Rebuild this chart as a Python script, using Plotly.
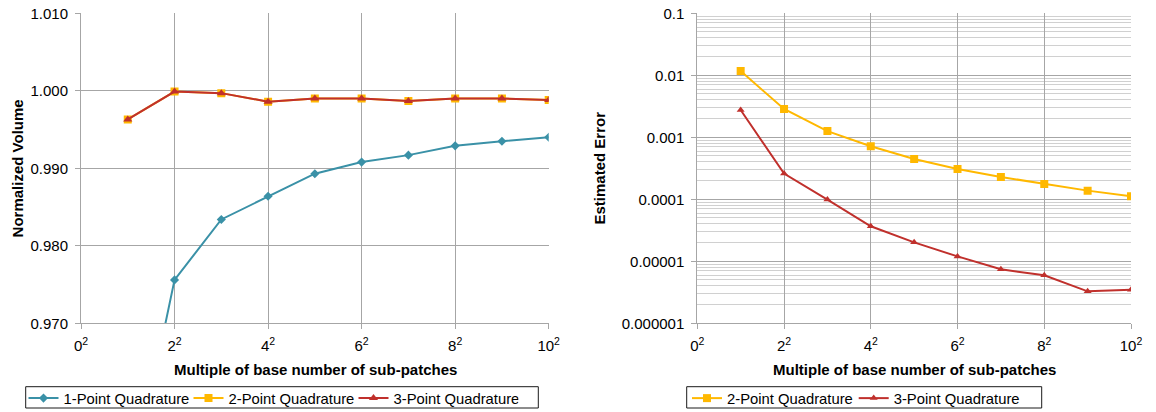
import plotly.graph_objects as go

# ---------------- data ----------------
multiples = [1, 2, 3, 4, 5, 6, 7, 8, 9, 10]

vol_1pt = [0.9468, 0.9756, 0.9834, 0.9864, 0.9893, 0.9908, 0.9917, 0.9929, 0.9935, 0.9940]
vol_2pt = [0.9963, 0.9999, 0.9997, 0.9986, 0.9990, 0.9990, 0.9987, 0.9990, 0.9990, 0.9988]
vol_3pt = [0.9963, 0.9999, 0.9997, 0.9986, 0.9990, 0.9990, 0.9987, 0.9990, 0.9990, 0.9988]

err_2pt = [0.0117, 0.00286, 0.00126, 0.000716, 0.000447, 0.000308, 0.000229, 0.000177, 0.000138, 0.000112]
err_3pt = [0.00275, 0.00026, 0.000099, 0.0000367, 0.0000202, 0.0000120, 0.00000743, 0.00000594, 0.00000328, 0.00000349]

xtick_vals = [0, 2, 4, 6, 8, 10]
xtick_text = ["0<sup>2</sup>", "2<sup>2</sup>", "4<sup>2</sup>", "6<sup>2</sup>", "8<sup>2</sup>", "10<sup>2</sup>"]

vol_tick_vals = [0.970, 0.980, 0.990, 1.000, 1.010]
vol_tick_text = ["0.970", "0.980", "0.990", "1.000", "1.010"]

err_tick_vals = [1e-6, 1e-5, 1e-4, 1e-3, 1e-2, 1e-1]
err_tick_text = ["0.000001", "0.00001", "0.0001", "0.001", "0.01", "0.1"]

name_1pt = "1-Point Quadrature"
name_2pt = "2-Point Quadrature"
name_3pt = "3-Point Quadrature"

x_title = "Multiple of base number of sub-patches"
y_title_left = "Normalized Volume"
y_title_right = "Estimated Error"

# ---------------- style / page geometry ----------------
W, H = 1156, 412
FONT = "Liberation Sans, Arial, sans-serif"
C1 = "#3A91A7"
C2 = "#FFB800"
C3 = "#C0302C"
GRID = "#A6A6A6"
MINOR = "#D0D0D0"
EPS = 1e-7


def px(x):
    return x / W


def py(y):
    return 1 - y / H


# minor gridlines for the log axis (2..9 x each decade)
minor_vals = []
for d in err_tick_vals[:-1]:
    for k in range(2, 10):
        minor_vals.append(d * k)

fig = go.Figure()

fig.add_trace(go.Scatter(x=multiples, y=vol_1pt, name=name_1pt, mode="lines+markers",
                         line=dict(color=C1, width=2),
                         marker=dict(symbol="diamond", size=7, color=C1),
                         xaxis="x", yaxis="y", legend="legend"))
fig.add_trace(go.Scatter(x=multiples, y=vol_2pt, name=name_2pt, mode="lines+markers",
                         line=dict(color=C2, width=2),
                         marker=dict(symbol="square", size=8, color=C2),
                         xaxis="x", yaxis="y", legend="legend"))
fig.add_trace(go.Scatter(x=multiples, y=vol_3pt, name=name_3pt, mode="lines+markers",
                         line=dict(color=C3, width=2),
                         marker=dict(symbol="triangle-up", size=8, color=C3),
                         xaxis="x", yaxis="y", legend="legend"))

fig.add_trace(go.Scatter(x=multiples, y=err_2pt, name=name_2pt, mode="lines+markers",
                         line=dict(color=C2, width=2),
                         marker=dict(symbol="square", size=8, color=C2),
                         xaxis="x2", yaxis="y2", legend="legend2"))
fig.add_trace(go.Scatter(x=multiples, y=err_3pt, name=name_3pt, mode="lines+markers",
                         line=dict(color=C3, width=2),
                         marker=dict(symbol="triangle-up", size=7, color=C3),
                         xaxis="x2", yaxis="y2", legend="legend2"))

tickfont = dict(family=FONT, size=15, color="#000000")
xcommon = dict(range=[0 - 1e-6, 10 + 1e-6], tickmode="array", tickvals=xtick_vals, ticktext=xtick_text,
               showgrid=True, gridcolor=GRID, gridwidth=1, zeroline=False,
               showline=True, linecolor=GRID, linewidth=1, automargin=False,
               ticks="outside", ticklen=5, tickcolor=GRID, tickfont=tickfont,
               ticklabelstandoff=4)
ycommon = dict(showgrid=True, gridcolor=GRID, gridwidth=1, zeroline=False,
               showline=True, linecolor=GRID, linewidth=1, automargin=False,
               ticks="outside", ticklen=5, tickcolor=GRID, tickfont=tickfont,
               ticklabelstandoff=4)

legend_common = dict(orientation="h", xanchor="left", yanchor="middle",
                     borderwidth=0, bgcolor="rgba(0,0,0,0)",
                     font=dict(family=FONT, size=14.8, color="#000000"),
                     entrywidthmode="pixels")

fig.update_layout(
    autosize=True,
    margin=dict(l=0, r=0, t=0, b=0, pad=0, autoexpand=False),
    paper_bgcolor="white", plot_bgcolor="white",
    font=dict(family=FONT, size=15, color="#000000"),
    xaxis=dict(domain=[px(81), px(548.7)], anchor="y", **xcommon),
    yaxis=dict(domain=[py(323.3), py(13.3)], anchor="x", range=[0.970 - EPS, 1.010 + EPS],
               tickmode="array", tickvals=vol_tick_vals, ticktext=vol_tick_text, **ycommon),
    xaxis2=dict(domain=[px(697.3), px(1131)], anchor="y2", **xcommon),
    yaxis2=dict(domain=[py(323.3), py(13.3)], anchor="x2", type="log", range=[-6 - 1e-5, -1 + 1e-5],
                tickmode="array", tickvals=err_tick_vals, ticktext=err_tick_text,
                minor=dict(tickvals=minor_vals, showgrid=True, gridcolor=MINOR,
                           gridwidth=1, ticks=""),
                **ycommon),
    legend=dict(x=px(23.5), y=py(398.5), entrywidth=120, **legend_common),
    legend2=dict(x=px(687), y=py(398.5), entrywidth=121.7, **legend_common),
    showlegend=True,
)

# legend frames
fig.add_shape(type="rect", xref="paper", yref="paper",
              x0=px(25.7), x1=px(538.3), y0=py(408), y1=py(386.7),
              line=dict(color="#1A1A1A", width=1), fillcolor="rgba(0,0,0,0)", layer="below")
fig.add_shape(type="rect", xref="paper", yref="paper",
              x0=px(686.7), x1=px(1041.7), y0=py(408), y1=py(386.7),
              line=dict(color="#1A1A1A", width=1), fillcolor="rgba(0,0,0,0)", layer="below")

title_font = dict(family=FONT, size=15, color="#000000")
fig.add_annotation(text="<b>%s</b>" % y_title_left, xref="paper", yref="paper",
                   x=px(17.4), y=py(168), textangle=-90, showarrow=False,
                   xanchor="center", yanchor="middle", font=title_font)
fig.add_annotation(text="<b>%s</b>" % y_title_right, xref="paper", yref="paper",
                   x=px(598.5), y=py(168), textangle=-90, showarrow=False,
                   xanchor="center", yanchor="middle", font=title_font)
fig.add_annotation(text="<b>%s</b>" % x_title, xref="paper", yref="paper",
                   x=px(315), y=py(369), showarrow=False,
                   xanchor="center", yanchor="middle", font=title_font)
fig.add_annotation(text="<b>%s</b>" % x_title, xref="paper", yref="paper",
                   x=px(914), y=py(369), showarrow=False,
                   xanchor="center", yanchor="middle", font=title_font)

# the graph div fills the browser viewport exactly (no page margins, no scrolling)
fig.write_html("out.html", config={"displayModeBar": False, "responsive": True},
               default_width="100vw",
               default_height="100vh; position:fixed; top:0; left:0")
